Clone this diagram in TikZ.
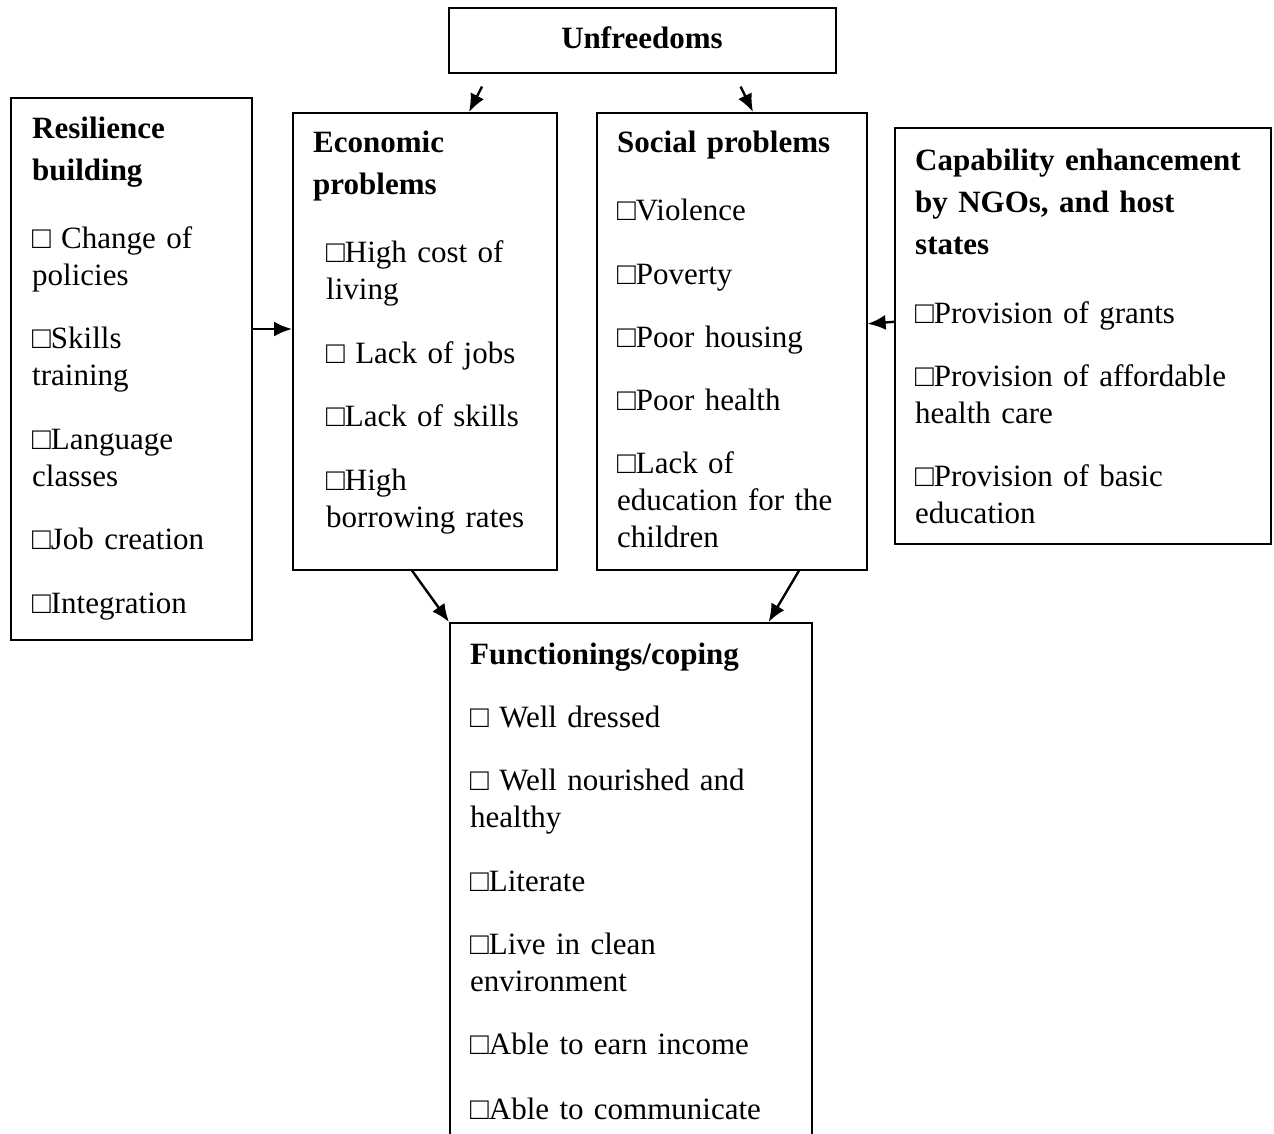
\documentclass[tikz,border=0pt]{standalone}
\usepackage{fontspec}
\setmainfont{Liberation Serif}
\usetikzlibrary{arrows.meta}
\begin{document}
\begin{tikzpicture}[x=1pt,y=-1pt,
  box/.style={draw, line width=1.6pt, anchor=north west, inner sep=0pt},
  txt/.style={anchor=base west, inner sep=0pt, text width=420pt, align=left, font=\fontsize{31}{37}\selectfont},
  hd/.style={txt, font=\bfseries\fontsize{31}{42}\selectfont},
  arr/.style={line width=2.4pt, -{Latex[length=18pt,width=15pt]}}]
\useasboundingbox (0,0) rectangle (1274,1133);
\clip (0,0) rectangle (1274,1133);
% boxes
\node[box, minimum width=387pt, minimum height=65pt] (unf) at (448,7) {};
\node[box, minimum width=241pt, minimum height=542pt] (res) at (10,97) {};
\node[box, minimum width=264pt, minimum height=457pt] (eco) at (292,112) {};
\node[box, minimum width=270pt, minimum height=457pt] (soc) at (596,112) {};
\node[box, minimum width=376pt, minimum height=416pt] (cap) at (894,127) {};
\node[box, minimum width=362pt, minimum height=620pt] (fun) at (449,622) {};
% Unfreedoms
\node[inner sep=0pt, anchor=base, font=\bfseries\fontsize{31}{37}\selectfont] (unft) at (642,48) {Unfreedoms};
% Resilience
\node[hd] (resh) at (32,138) {Resilience\\building};
\node[txt] (res1) at (32,248) {□ Change of\\policies};
\node[txt] (res2) at (32,348) {□Skills\\training};
\node[txt] (res3) at (32,449) {□Language\\classes};
\node[txt] (res4) at (32,549) {□Job creation};
\node[txt] (res5) at (32,613) {□Integration};
% Economic
\node[hd] (ecoh) at (313,152) {Economic\\problems};
\node[txt] (eco1) at (326,262) {□High cost of\\living};
\node[txt] (eco2) at (326,363) {□ Lack of jobs};
\node[txt] (eco3) at (326,426) {□Lack of skills};
\node[txt] (eco4) at (326,490) {□High\\borrowing rates};
% Social
\node[hd] (soch) at (617,152) {Social problems};
\node[txt] (soc1) at (617,220) {□Violence};
\node[txt] (soc2) at (617,284) {□Poverty};
\node[txt] (soc3) at (617,347) {□Poor housing};
\node[txt] (soc4) at (617,410) {□Poor health};
\node[txt] (soc5) at (617,473) {□Lack of\\education for the\\children};
% Capability
\node[hd] (caph) at (915,170) {Capability enhancement\\by NGOs, and host\\states};
\node[txt] (cap1) at (915,323) {□Provision of grants};
\node[txt] (cap2) at (915,386) {□Provision of affordable\\health care};
\node[txt] (cap3) at (915,486) {□Provision of basic\\education};
% Functionings
\node[hd] (funh) at (470,664) {Functionings/coping};
\node[txt] (fun1) at (470,727) {□ Well dressed};
\node[txt] (fun2) at (470,790) {□ Well nourished and\\healthy};
\node[txt] (fun3) at (470,891) {□Literate};
\node[txt] (fun4) at (470,954) {□Live in clean\\environment};
\node[txt] (fun5) at (470,1054) {□Able to earn income};
\node[txt] (fun6) at (470,1119) {□Able to communicate};
% arrows
\coordinate (h1) at (0,329);
\draw[arr] ([xshift=34pt,yshift=-13pt]unf.south west) -- ([xshift=177pt]eco.north west);
\draw[arr] ([xshift=-96pt,yshift=-13pt]unf.south east) -- ([xshift=157pt]soc.north west);
\draw[arr] (res.east |- h1) -- (eco.west |- h1);
\draw[arr] ([yshift=14pt]cap.west) -- ([yshift=17.5pt]soc.east);
\draw[arr] ([xshift=120pt]eco.south west) -- (fun.north west);
\draw[arr] ([xshift=203pt]soc.south west) -- ([xshift=-44pt]fun.north east);
\end{tikzpicture}
\end{document}
